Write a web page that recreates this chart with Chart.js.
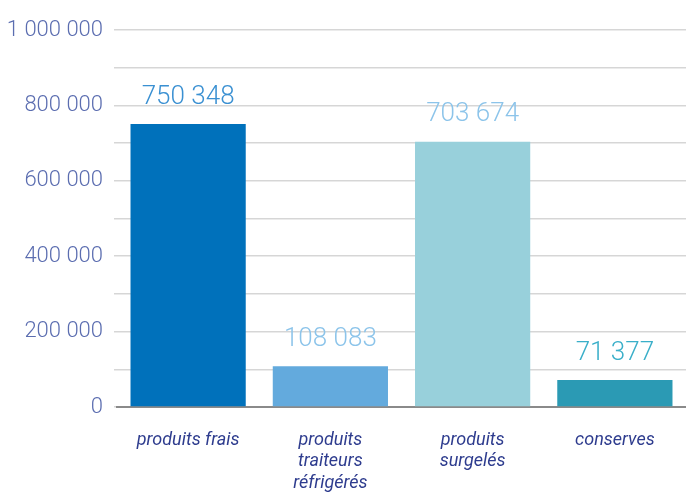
<!DOCTYPE html>
<html>
<head>
<meta charset="utf-8">
<script src="https://cdn.jsdelivr.net/npm/chart.js@4.4.1/dist/chart.umd.min.js"></script>
<style>
  html, body { margin: 0; padding: 0; background: #fff; }
  #wrap { width: 686px; height: 492px; position: relative; }
</style>
</head>
<body>
<div id="wrap"><canvas id="chart"></canvas></div>
<script>
/* ---------- données ---------- */
const categories = [
  ["produits frais"],
  ["produits", "traiteurs", "réfrigérés"],
  ["produits", "surgelés"],
  ["conserves"]
];
const values = [750348, 108083, 703674, 71377];
const barColors = ["#0071BB", "#63AADD", "#98D0DB", "#2B9AB4"];
const labelColors = ["#3A90D2", "#8CC4EA", "#8CC4EA", "#3AAFC9"];
const yTicks = [0, 200000, 400000, 600000, 800000, 1000000];

// 750348 -> "750 348"
const fmt = v => String(v).replace(/\B(?=(\d{3})+(?!\d))/g, " ");

// étiquettes de valeur au-dessus des barres
const valueLabels = {
  id: "valueLabels",
  afterDatasetsDraw(chart) {
    const { ctx } = chart;
    const meta = chart.getDatasetMeta(0);
    ctx.save();
    ctx.font = "300 26px Roboto";
    ctx.textAlign = "center";
    ctx.textBaseline = "middle";
    meta.data.forEach((bar, i) => {
      ctx.fillStyle = labelColors[i];
      ctx.fillText(fmt(values[i]), bar.x, bar.y - 27);
    });
    ctx.restore();
  }
};

new Chart(document.getElementById("chart"), {
  type: "bar",
  data: {
    labels: categories,
    datasets: [{
      data: values,
      backgroundColor: barColors,
      borderWidth: 0,
      barPercentage: 0.81,
      categoryPercentage: 1
    }]
  },
  options: {
    animation: false, responsive: true, maintainAspectRatio: false,
    layout: { padding: { top: 30, right: 0, left: 0, bottom: 0 } },
    plugins: { legend: { display: false }, tooltip: { enabled: false } },
    scales: {
      x: {
        grid: { display: false, drawTicks: false },
        border: { display: true, color: "#8a8a8a", width: 2 },
        ticks: {
          color: "#2E3C8E", padding: 23, maxRotation: 0, autoSkip: false,
          font: { family: "Roboto", size: 18, style: "italic", lineHeight: 1.18 }
        },
        afterFit: s => { s.height = 85; }
      },
      y: {
        z: 1,
        min: 0, max: 1000000,
        grid: { color: "rgba(0,0,0,0.16)", lineWidth: 1.5, tickLength: 3 },
        border: { display: false },
        ticks: {
          stepSize: 100000, padding: 11, color: "#5B6DB0",
          font: { family: "Roboto", size: 22, weight: 300 },
          callback: v => yTicks.includes(v) ? fmt(v) : ""
        },
        afterFit: s => { s.width = 117; }
      }
    }
  },
  plugins: [valueLabels]
});
</script>
</body>
</html>
